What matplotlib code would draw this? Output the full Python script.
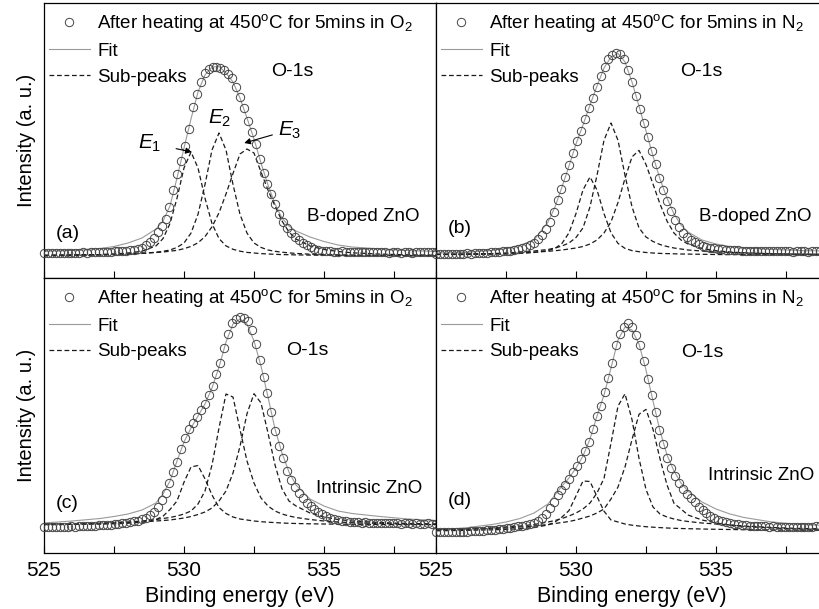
import numpy as np
import matplotlib
matplotlib.use('Agg')
import matplotlib.pyplot as plt
from matplotlib.ticker import MultipleLocator

plt.rcParams['font.family'] = ['Liberation Sans', 'DejaVu Sans']
plt.rcParams['mathtext.fontset'] = 'custom'
plt.rcParams['mathtext.rm'] = 'Liberation Sans'
plt.rcParams['mathtext.it'] = 'Liberation Sans:italic'

# binding energy of the measured points (eV) and of the fitted curves
energy_pts = np.linspace(525, 539, 101)
energy_fit = [525, 526, 527, 527.5, 528, 528.5, 529, 529.25, 529.5, 529.75, 530, 530.25,
              530.5, 530.75, 531, 531.25, 531.5, 531.75, 532, 532.25, 532.5, 532.75, 533,
              533.25, 533.5, 533.75, 534, 534.5, 535, 535.5, 536, 537, 538, 539]

# (a) B-doped ZnO, O2
a_data = [25.5, 25, 25.5, 25, 25.5, 25, 25.5, 25.5, 25, 25.5, 26, 25.5, 26, 26, 26.5, 26, 26.5,
          26.5, 27, 27, 27.5, 27.5,
          28, 28.5, 29, 30, 33, 36.5, 40.5, 46, 52, 59, 71, 88, 104, 117, 132, 149, 171, 184,
          196, 205, 209, 211, 211, 210, 208, 204.5, 200, 191, 181, 170, 157, 146, 134, 119, 105,
          94, 84, 74, 64.5, 56.5, 50, 45.5, 41.5, 38, 35.5, 33, 31, 29.5, 28.5, 27.5,
          27, 27, 26.5, 26.5, 27, 26.5, 26, 26.5, 26.5, 26, 26.5, 26, 26, 26.5, 26, 26, 25.5, 26,
          26, 25.5, 26, 26, 25.5, 26, 26, 26.5, 26, 26, 26.5]
a_fit = [26.5, 27.5, 29.5, 31.5, 35, 40, 49, 57, 72, 100, 130, 159, 186, 203, 211, 211.5, 205,
         196, 180, 160, 139, 115, 93, 74, 60, 52, 47, 41, 36.5, 33, 31, 29, 27.5, 26.5]
a_e1 = [22.6, 22.9, 23.4, 24.0, 25.0, 26.8, 32.1, 39.4, 54.5, 79.8, 110.1, 126, 110.1, 79.8,
        54.5, 39.4, 32.1, 28.7, 26.8, 25.6, 25.0, 24.4, 24.0, 23.7, 23.4, 23.3, 23.1, 22.9, 22.7,
        22.6, 22.5, 22.3, 22.2, 22.2]
a_e2 = [22.5, 22.7, 23.1, 23.4, 23.8, 24.6, 25.8, 26.7, 28.0, 30.6, 35.0, 44.9, 63.7, 93.5, 128,
        145, 128, 93.5, 63.7, 44.9, 35.0, 30.6, 28.0, 26.7, 25.8, 25.1, 24.6, 23.8, 23.4, 23.1,
        22.9, 22.6, 22.5, 22.4]
a_e3 = [22.7, 23.0, 23.4, 23.7, 24.1, 24.7, 25.5, 26.0, 26.8, 27.7, 29.3, 31.6, 35.2, 41.4, 51.2,
        65.2, 84, 104.5, 124, 129, 125, 106, 88, 72, 57, 46, 39, 32, 28.5, 26.5, 25.2, 23.9,
        23.2, 22.8]

# (b) B-doped ZnO, N2
b_data = [24.5, 24, 24.5, 24, 24.5, 24.5, 24, 24.5, 25, 24.5, 25, 25, 25.5, 25.5, 26, 26, 26.5,
          27, 27, 27.5, 28, 29,
          30, 31.5, 33, 35.5, 39, 43, 49.5, 56.5, 66, 78, 89.5, 101.3, 113, 125, 137, 147.5, 159,
          170.5, 180.5, 191.5, 202, 211.5, 219, 223, 225, 224, 219, 208, 196.3, 182.5, 169, 155,
          141, 127.3, 113.7, 100, 88, 77.3, 67, 58.5, 50.7, 45.5, 41.3, 38.5, 36, 34, 32.5, 31.3,
          30.3, 29.7, 29.2, 28.8, 28.5, 28.2, 28, 27.8,
          27.5, 27.5, 27, 27.5, 27.5, 27, 27, 27.5, 27, 27, 27.5, 27, 27, 26.5, 27, 27, 27, 26.5,
          27, 27, 27.5, 27, 27]
b_fit = [25, 25.5, 27.5, 29.5, 32.5, 38, 56, 71, 91, 112, 134, 153, 173, 192, 210, 221, 224.5,
         216, 196, 172, 147, 122, 99, 80, 64, 53, 46, 38, 34, 31.5, 30, 28.5, 27.5, 27]
b_e1 = [23.4, 23.5, 23.9, 24.2, 24.6, 25.5, 27.4, 29.6, 34.6, 45.2, 64.4, 88.1, 101, 88.1, 64.4,
        45.2, 34.6, 29.6, 27.4, 26.3, 25.5, 25.0, 24.6, 24.4, 24.2, 24.0, 23.9, 23.7, 23.5, 23.4,
        23.4, 23.3, 23.2, 23.2]
b_e2 = [23.6, 23.8, 24.3, 24.7, 26.0, 27.0, 28.5, 30.0, 32.0, 35.0, 40.5, 50.1, 71.2, 102.7,
        137.7, 155, 137.7, 102.7, 71.2, 50.1, 41.0, 36.5, 33.5, 31.5, 30.0, 29.0, 28.0, 27.0,
        26.0, 25.5, 25.0, 24.3, 23.8, 23.6]
b_e3 = [23.7, 24.0, 24.4, 24.8, 25.2, 25.8, 26.7, 27.3, 28.0, 29.0, 30.0, 31.5, 34.0, 38.0, 45.0,
        56.1, 75.5, 99.5, 121.1, 127.6, 113.5, 94, 74, 57, 45, 38, 34, 29.5, 27.3, 26.0, 25.2,
        24.3, 23.8, 23.5]

# (c) intrinsic ZnO, O2
c_data = [26, 26.5, 26, 26.5, 26.5, 26, 26.5, 27, 26.5, 27, 27, 27.5, 27.5, 27.5, 28, 28, 28.5,
          28.5, 29, 29.5, 30, 30.5,
          31, 32, 32.5, 34, 35.5, 38, 41.5, 46.5, 53, 60.5, 70, 81, 91.5, 104.5, 115.5, 124.5,
          130.5, 136.5, 143, 149, 158, 167.5, 179, 190.5, 205, 219.5, 230, 234.5, 236.3, 235, 232,
          223, 209, 193, 176, 160, 141, 122, 107, 95.5, 82, 73.5, 66, 60, 55, 49.7, 46.7, 44,
          41.5, 39.5, 37.5, 35.5, 34.5, 33.5, 32.5, 32, 31.3,
          31, 31, 30.5, 31, 30.5, 30.5, 30, 30.5, 30, 30, 30.5, 30, 29.5, 30, 30, 29.5, 30, 29.5,
          29.5, 30, 29.5, 29.5]
c_fit = [30, 32, 34.5, 36.5, 39, 43, 50, 59, 72, 92, 111, 125, 137, 149, 165, 186, 211, 229, 234,
         229, 212, 187, 156, 124, 100, 81, 68, 54, 47, 42, 39.5, 36.5, 34, 32.5]
c_e1 = [28.4, 28.6, 28.9, 29.2, 29.8, 30.8, 33.5, 36.8, 43.5, 52, 70.8, 86, 87.5, 74.1, 58, 45.5,
        39.5, 36, 34, 33, 32, 31.3, 30.8, 30.4, 30, 29.7, 29.5, 29.2, 29, 28.8, 28.7, 28.5, 28.4,
        28.3]
c_e2 = [28.9, 29.2, 29.8, 30.3, 31, 32, 33.5, 34.5, 35.5, 37, 39, 42, 49, 62, 88, 125, 159, 156,
        123.5, 92, 70, 55, 47, 42, 39, 37, 35.5, 33.5, 32, 31, 30.3, 29.5, 29, 28.8]
c_e3 = [28.7, 29, 29.5, 30, 30.5, 31, 32, 32.5, 33, 34, 35, 36.5, 38.5, 41, 45, 52, 62, 80, 106.7,
        139.3, 159.3, 150.1, 120, 88.1, 64.2, 52, 47, 40, 36, 33.5, 32, 30.5, 29.5, 29]

# (d) intrinsic ZnO, N2
d_data = [21, 21.5, 21, 21.5, 21, 21.5, 21.5, 21, 21.5, 22, 22, 22.5, 22.5, 23, 23, 23.5, 24,
          24.5, 25, 25.5, 26.3, 27,
          27.5, 28, 29, 30, 32.5, 35, 39, 45, 51.3, 58, 63.5, 68.5, 74, 81, 87.5, 94.5, 102,
          111.5, 124.5, 137, 147, 161, 175, 190.5, 208, 219.5, 226.5, 229.7, 226, 218.5, 208,
          192, 174.5, 158.5, 141, 123.5, 109, 95.5, 85, 77, 70.5, 64, 59.5, 55.5, 51, 46.5, 43,
          40, 37.5, 35.5, 33.5, 32.5, 31.5, 30.5, 29.5, 29, 28.5, 28,
          27.5, 27.5, 27, 27, 27, 26.5, 27, 26.5, 26.5, 26.5, 26, 26.5, 26.5, 26.5, 26, 26.5,
          26.5, 27, 27, 27, 27.5]
d_fit = [23, 25, 28.5, 31, 34.5, 40, 49, 58, 67, 75, 85, 97, 114, 137, 158, 185, 213, 226, 223,
         209, 183, 152, 122, 98, 82, 70, 62, 51, 44, 39, 35.5, 31, 28.5, 27.5]
d_e1 = [22.2, 22.6, 23.2, 23.6, 24.3, 25.5, 28, 31, 36, 42.4, 57.1, 72, 71.5, 56.5, 41.8, 33, 31,
        29, 27.8, 27, 26.3, 25.8, 25.4, 25, 24.7, 24.5, 24.3, 24, 23.7, 23.5, 23.3, 23, 22.8, 22.6]
d_e2 = [23.5, 24, 25, 26, 27, 28.5, 31, 32.5, 34.5, 37, 40, 44, 50, 60, 74.6, 109.9, 146.9,
        159.2, 133.4, 94.7, 63.5, 46, 39, 36, 34, 32.5, 31.5, 30, 29, 28, 27, 25.5, 24.5, 24]
d_e3 = [23, 23.5, 24.5, 25, 26, 27, 28.5, 29.5, 30.5, 31.5, 33, 35, 37, 40, 44, 54, 66, 86,
        113.4, 138.7, 143.6, 123.7, 94.2, 68.1, 49.7, 44, 38, 33, 30, 28, 26.5, 25, 24, 23.5]


def sample_x_for(sample):
    if sample.startswith('B'):
        return 0.815
    return 0.83


def draw_panel(ax, data, fit, peaks, gas, sample, tag, tag_y, sample_y, o1s_x, o1s_y):
    fit_line, = ax.plot(energy_fit, fit, color='#9a9a9a', lw=0.8)
    for p in peaks:
        sub_line, = ax.plot(energy_fit, p, color='#1a1a1a', lw=0.9, ls=(0, (3.8, 2.2)))
    pts, = ax.plot(energy_pts, data, 'o', mfc='none', mec='#454545', ms=6, mew=0.7,
                   clip_on=False, zorder=3)

    ax.legend([pts, fit_line, sub_line],
              [r'After heating at 450$^{\rm o}$C for 5mins in ' + gas, 'Fit', 'Sub-peaks'],
              loc='upper left', bbox_to_anchor=(-0.012, 1.0), frameon=False, fontsize=13.5,
              borderaxespad=0, borderpad=0.5, handlelength=2.2, handletextpad=0.4,
              labelspacing=0.45)

    ax.text(0.03, tag_y, tag, transform=ax.transAxes, fontsize=14, va='center', ha='left')
    ax.text(sample_x_for(sample), sample_y, sample, transform=ax.transAxes, fontsize=13.5,
            va='center', ha='center')
    ax.text(o1s_x, o1s_y, 'O-1s', transform=ax.transAxes, fontsize=14, va='center', ha='center')

    ax.set_xlim(525, 539)
    ax.set_ylim(0, 275)
    ax.set_yticks([])
    ax.xaxis.set_major_locator(MultipleLocator(5))
    ax.xaxis.set_minor_locator(MultipleLocator(2.5))
    ax.tick_params(axis='x', which='both', direction='in', length=5, width=0.8,
                   labelsize=15, pad=6)
    for s in ax.spines.values():
        s.set_linewidth(0.9)


fig = plt.figure(figsize=(8.19, 6.09), dpi=100)
W = 392 / 819
H = 275 / 609
x_left = 44 / 819
x_right = 436 / 819
y_top = 1 - 278 / 609
y_bot = 1 - 553 / 609

ax_a = fig.add_axes([x_left, y_top, W, H])
ax_b = fig.add_axes([x_right, y_top, W, H])
ax_c = fig.add_axes([x_left, y_bot, W, H])
ax_d = fig.add_axes([x_right, y_bot, W, H])

draw_panel(ax_a, a_data, a_fit, [a_e1, a_e2, a_e3], r'O$_2$', 'B-doped ZnO', '(a)', 0.16, 0.225, 0.633, 0.75)
draw_panel(ax_b, b_data, b_fit, [b_e1, b_e2, b_e3], r'N$_2$', 'B-doped ZnO', '(b)', 0.18, 0.225, 0.676, 0.75)
draw_panel(ax_c, c_data, c_fit, [c_e1, c_e2, c_e3], r'O$_2$', 'Intrinsic ZnO', '(c)', 0.18, 0.236, 0.671, 0.738)
draw_panel(ax_d, d_data, d_fit, [d_e1, d_e2, d_e3], r'N$_2$', 'Intrinsic ZnO', '(d)', 0.19, 0.28, 0.679, 0.73)

for ax in (ax_a, ax_b):
    ax.tick_params(axis='x', labelbottom=False)
for ax in (ax_c, ax_d):
    ax.set_xlabel('Binding energy (eV)', fontsize=15.5, labelpad=4)
for ax in (ax_a, ax_c):
    ax.set_ylabel('Intensity (a. u.)', fontsize=14.5, labelpad=6)

# peak labels in panel (a)
ax_a.annotate(r'$E_1$', xy=(530.28, 126), xytext=(528.35, 135), fontsize=15,
              va='center', ha='left',
              arrowprops=dict(arrowstyle='-|>', color='k', lw=0.8, mutation_scale=9,
                              shrinkA=9, shrinkB=0))
ax_a.text(530.85, 160, r'$E_2$', fontsize=15, va='center', ha='left')
ax_a.annotate(r'$E_3$', xy=(532.15, 135), xytext=(533.35, 148), fontsize=15,
              va='center', ha='left',
              arrowprops=dict(arrowstyle='-|>', color='k', lw=0.8, mutation_scale=9,
                              shrinkA=2, shrinkB=0))

fig.savefig('out.png', dpi=100)
